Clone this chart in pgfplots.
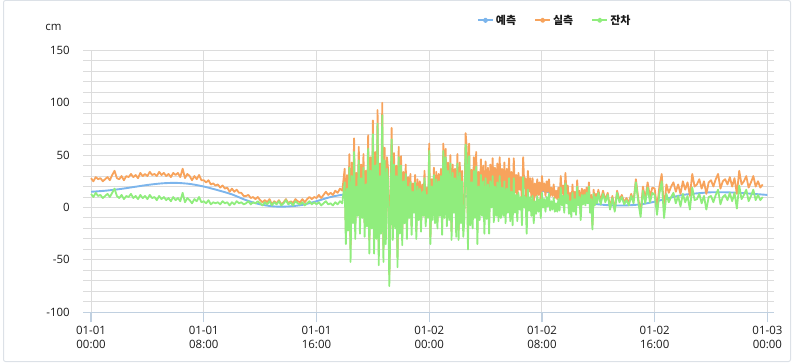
\documentclass[border=0pt]{standalone}
\usepackage{pgfplots}
\pgfplotsset{compat=1.18}
\usepackage{pgfplotstable}
\usepackage{fontspec}
\setmainfont{Open Sans}
\newfontfamily\kr{Noto Sans CJK KR}
\definecolor{cpred}{HTML}{7CB5EC}
\definecolor{cobs}{HTML}{F7A35C}
\definecolor{cres}{HTML}{90ED7D}
\definecolor{cgrid}{HTML}{DCDCDC}
\definecolor{caxis}{HTML}{C0D0E0}
\definecolor{cframe}{HTML}{DCE1E7}
\definecolor{ctext}{HTML}{1A1A1A}

\pgfplotstableread{
t pred
0 15
60 16
120 17.5
180 19.5
240 21.5
300 23
360 23.5
420 22.5
480 20
540 16.5
600 12.5
660 7
720 3
780 1
840 1
900 2.5
960 6
1020 10
1080 12.5
1140 13.5
1200 13
1260 11.5
1320 9.5
1380 7.5
1440 6.5
1500 7
1560 9
1620 12
1680 15.5
1740 18
1800 19
1860 18
1920 16
1980 12.5
2040 8.5
2100 5
2160 3
2220 2
2280 2
2340 3
2400 5.5
2460 9
2520 12
2580 13.5
2640 14.5
2700 14.5
2760 14
2820 13
2880 12
}\preddata

\pgfplotstableread{
t obs res
0 28 13
10 25 10
20 29 14
30 27 11
40 28 12
50 25 9
60 27 11
70 29 13
80 26 10
90 31 14
100 35 18
110 28 11
120 27 9
130 30 12
140 26 8
150 30 11
160 29 10
170 32 13
180 29 9
190 31 11
200 28 8
210 33 12
220 30 9
230 32 11
240 30 8
250 34 12
260 31 9
270 32 10
280 30 7
290 34 11
300 31 8
310 33 10
320 30 7
330 32 9
340 29 6
350 33 10
360 31 7
370 33 9
380 29 6
390 37 14
400 28 5
410 32 9
420 30 7
430 26 4
440 30 8
450 27 6
460 31 10
470 26 5
480 26 6
490 24 4
500 26 7
510 22 3
520 23 5
530 21 4
540 22 5
550 19 3
560 21 6
570 18 4
580 19 5
590 15 2
600 18 5
610 15 3
620 17 6
630 14 4
640 14 5
650 11 3
660 11 4
670 12 6
680 9 3
690 10 5
700 8 4
710 10 6
720 7 4
730 5 2
740 7 5
750 5 3
760 8 6
770 3 2
780 6 5
790 4 3
800 7 6
810 3 2
820 5 4
830 8 7
840 4 3
850 6 5
860 4 2
870 8 6
880 6 4
890 5 3
900 8 5
910 5 2
920 8 4
930 10 6
940 8 3
950 10 5
960 9 3
970 12 5
980 9 2
990 12 4
1000 15 6
1010 12 3
1020 14 4
1030 12 2
1040 16 5
1050 14 3
1060 18 6
1070 16 4
1080 37 24
1085 -22 -35
1090 31 18
1095 -9 -22
1100 51 38
1105 -39 -52
1110 43 30
1115 -2 -15
1120 66 53
1125 -17 -30
1130 33 20
1135 5 -8
1140 58 45
1145 -12 -25
1150 41 28
1155 3 -10
1160 51 38
1165 -15 -28
1170 35 22
1175 -5 -18
1180 69 56
1185 -31 -44
1190 48 35
1195 -7 -20
1200 83 70
1205 -31 -44
1210 53 40
1215 -17 -30
1220 93 80
1225 -42 -55
1230 42 30
1235 -13 -25
1240 100 88
1245 -40 -52
1250 57 45
1255 -23 -35
1260 48 37
1265 36 25
1270 -64 -75
1275 1 -10
1280 76 65
1285 -20 -31
1290 52 41
1295 -9 -20
1300 40 30
1305 -47 -57
1310 58 48
1315 -15 -25
1320 49 40
1325 -27 -36
1330 34 25
1335 -6 -15
1340 41 32
1345 -21 -30
1350 29 20
1355 -2 -10
1360 32 24
1365 -18 -26
1370 23 15
1375 3 -5
1380 31 24
1385 -23 -30
1390 27 20
1395 -5 -12
1400 25 18
1405 -16 -23
1410 22 15
1415 -1 -8
1420 35 28
1425 -11 -18
1430 19 12
1435 -3 -10
1440 61 54
1445 -28 -35
1450 27 20
1455 -5 -12
1460 38 31
1465 -8 -15
1470 34 27
1475 -13 -20
1480 32 25
1485 -1 -8
1490 37 30
1495 -19 -26
1500 61 54
1505 -3 -10
1510 56 48
1515 -10 -18
1520 43 35
1525 -4 -12
1530 50 42
1535 -23 -31
1540 41 33
1545 3 -5
1550 37 28
1555 -19 -28
1560 51 42
1565 -22 -31
1570 43 33
1575 -5 -15
1580 35 25
1585 -18 -28
1590 1 -10
1595 71 60
1600 56 45
1605 -29 -40
1610 61 49
1615 -5 -17
1620 36 24
1625 -8 -20
1630 48 35
1635 3 -10
1640 53 39
1645 -21 -35
1650 34 20
1655 2 -12
1660 46 31
1665 7 -8
1670 40 25
1675 -10 -25
1680 44 28
1685 5 -11
1690 38 22
1695 -9 -25
1700 41 25
1705 16 0
1710 47 30
1715 3 -14
1720 38 20
1725 10 -8
1730 42 24
1735 5 -13
1740 48 30
1745 8 -10
1750 37 19
1755 10 -8
1760 43 25
1765 3 -15
1770 37 18
1775 14 -5
1780 47 28
1785 6 -13
1790 34 15
1795 2 -17
1800 47 28
1805 14 -5
1810 31 12
1815 6 -13
1820 33 14
1825 17 -2
1830 29 10
1835 2 -17
1840 48 29
1845 19 0
1850 28 10
1855 -7 -25
1860 35 17
1865 15 -3
1870 28 10
1875 10 -8
1880 28 11
1885 2 -15
1890 23 6
1895 11 -6
1900 27 11
1905 12 -4
1910 24 8
1915 6 -10
1920 30 14
1925 16 0
1930 23 8
1935 11 -4
1940 25 10
1945 15 1
1950 27 13
1955 11 -3
1960 19 6
1965 11 -2
1970 22 9
1975 9 -4
1980 16 4
1985 8 -4
1990 19 8
1995 8 -3
2000 30 19
2005 13 2
2010 21 11
2015 5 -5
2020 33 23
2025 13 4
2030 21 12
2035 3 -6
2040 14 6
2045 -1 -9
2050 22 14
2055 3 -4
2060 15 8
2065 0 -7
2070 26 20
2075 8 2
2080 16 10
2085 -6 -12
2090 18 12
2095 8 3
2100 17 12
2105 7 2
2110 19 14
2115 8 4
2120 24 20
2125 -1 -5
2130 12 8
2135 -17 -21
2140 17 13
2145 5 2
2150 13 10
2155 7 4
2160 17 14
2170 6 3
2180 16 13
2190 7 5
2200 14 12
2210 0 -2
2220 11 9
2230 -2 -4
2240 16 14
2250 7 5
2260 12 10
2270 5 3
2280 9 7
2290 4 2
2300 13 11
2310 6 4
2320 27 24
2330 9 6
2340 -6 -9
2350 20 16
2360 8 4
2370 24 19
2380 10 5
2390 19 14
2400 18 12
2410 -1 -7
2420 20 13
2430 32 25
2440 -2 -10
2450 22 13
2460 14 5
2470 20 10
2480 24 14
2490 15 4
2500 22 11
2510 13 1
2520 25 13
2530 17 5
2540 24 11
2550 11 -2
2560 32 19
2570 20 7
2580 22 8
2590 27 13
2600 18 4
2610 25 11
2620 13 -2
2630 24 10
2640 26 11
2650 20 5
2660 27 12
2670 32 17
2680 18 3
2690 25 10
2700 27 12
2710 22 7
2720 29 14
2730 20 6
2740 28 14
2750 13 -1
2760 35 21
2770 22 8
2780 25 12
2790 30 17
2800 19 6
2810 24 11
2820 30 17
2830 20 7
2840 25 12
2850 19 7
2860 22 10
}\obsdata

\begin{document}
\begin{tikzpicture}
\path[use as bounding box] (0,0) rectangle (793bp,363bp);
\draw[cframe, line width=1bp, rounded corners=2bp] (3.5bp,1.5bp) rectangle (790.5bp,362.5bp);
\begin{axis}[
  at={(83.3bp,50.7bp)}, anchor=south west,
  scale only axis, width=690.2bp, height=262bp,
  xmin=-33, xmax=2906, ymin=-100, ymax=150,
  xtick={0,480,960,1440,1920,2400,2880},
  xticklabels={{01-01\\00:00},{01-01\\08:00},{01-01\\16:00},{01-02\\00:00},{01-02\\08:00},{01-02\\16:00},{01-03\\00:00}},
  xticklabel style={align=center, font=\fontsize{11.5}{14.5}\selectfont, text=ctext},
  ytick={-100,-50,0,50,100,150},
  yticklabels={-100,-50,0,50,100,150},
  yticklabel style={font=\fontsize{11.5}{14}\selectfont, text=ctext},
  minor ytick={-90,-80,-70,-60,-40,-30,-20,-10,10,20,30,40,60,70,80,90,110,120,130,140},
  grid=both,
  major grid style={cgrid, line width=1bp},
  minor grid style={cgrid, line width=1bp},
  axis line style={draw=none},
  tick align=outside,
  xtick pos=left,
  major tick length=10bp,
  minor tick length=0pt,
  xtick style={caxis, line width=1.2bp},
  ytick style={draw=none},
  legend style={at={(0.683,1.1145)}, anchor=center, draw=none, fill=none,
    font=\kr\bfseries\fontsize{11}{13}\selectfont, text=ctext,
    /tikz/every even column/.append style={column sep=16bp}},
  legend columns=3,
  legend image code/.code={\draw[#1, line width=2bp] (0bp,0bp) -- (15bp,0bp); \fill[#1] (7.5bp,0bp) circle (1.8bp);},
  extra description/.code={
    \draw[caxis, line width=1.2bp] (axis description cs:0,0) -- (axis description cs:1,0);
    \node[font=\fontsize{11.5}{14}\selectfont, text=ctext] at (axis description cs:-0.0432,1.089) {cm};
  },
]
\addplot[cpred, line width=1.9bp, smooth, line join=round] table[x=t, y=pred] {\preddata};
\addlegendentry{예측}
\addplot[cobs, line width=1.8bp, line join=round] table[x=t, y=obs] {\obsdata};
\addlegendentry{실측}
\addplot[cres, line width=1.8bp, line join=round] table[x=t, y=res] {\obsdata};
\addlegendentry{잔차}
\end{axis}
\end{tikzpicture}
\end{document}
